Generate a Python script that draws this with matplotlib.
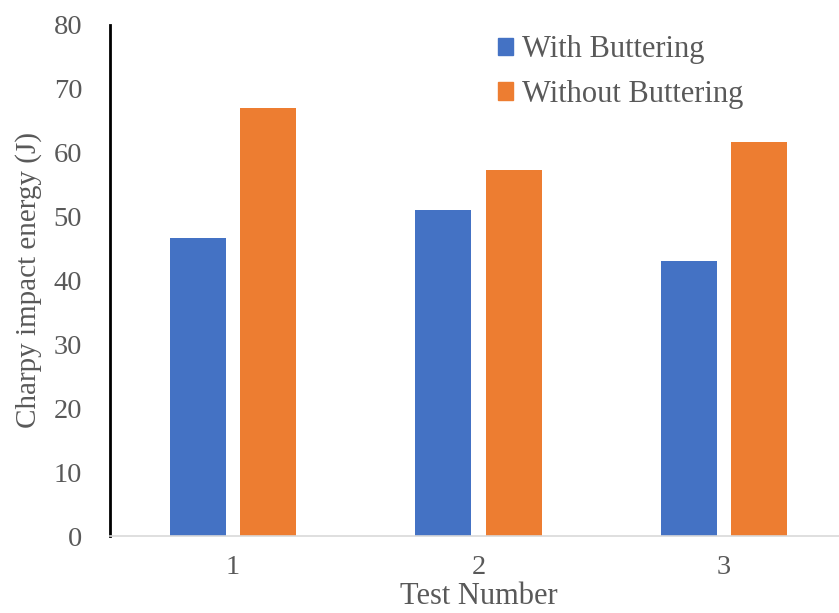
import numpy as np
import matplotlib.pyplot as plt
from matplotlib.patches import Patch

plt.rcParams['font.family'] = ['Liberation Serif', 'DejaVu Serif']

tests = ['1', '2', '3']
with_buttering = [46.6, 51.0, 43.0]
without_buttering = [67.0, 57.3, 61.7]

blue = '#4472C4'
orange = '#ED7D31'
grey = '#595959'

fig = plt.figure(figsize=(8.39, 6.13), dpi=100)
ax = fig.add_axes([110 / 839, 77 / 613, 737 / 839, 511 / 613])

x = np.arange(len(tests))
w = 0.228
off = 0.143
ax.bar(x - off, with_buttering, w, color=blue, zorder=2)
ax.bar(x + off, without_buttering, w, color=orange, zorder=2)

ax.set_xlim(-0.5, 2.5)
ax.set_ylim(0, 80)
ax.set_yticks(range(0, 81, 10))
ax.set_xticks(x)
ax.set_xticklabels(tests)
ax.tick_params(axis='both', length=0, labelsize=20.5, labelcolor=grey)
ax.tick_params(axis='x', pad=14)
ax.tick_params(axis='y', pad=20)

for s in ['top', 'right']:
    ax.spines[s].set_visible(False)
ax.spines['left'].set_color('black')
ax.spines['left'].set_linewidth(2)
ax.spines['bottom'].set_color('#D9D9D9')
ax.spines['bottom'].set_linewidth(1.2)

ax.set_xlabel('Test Number', fontsize=22, color=grey, labelpad=1)
ax.set_ylabel('Charpy impact energy (J)', fontsize=21, color=grey, labelpad=8)

handles = [Patch(color=blue, label='With Buttering'),
           Patch(color=orange, label='Without Buttering')]
fig.legend(handles=handles, loc='upper left', bbox_to_anchor=(470 / 839, 1 - 8 / 613),
           frameon=False, fontsize=22, labelcolor=grey, handlelength=0.5,
           handleheight=0.5, handletextpad=0.3, labelspacing=0.5)

fig.savefig('out.png', dpi=100)
